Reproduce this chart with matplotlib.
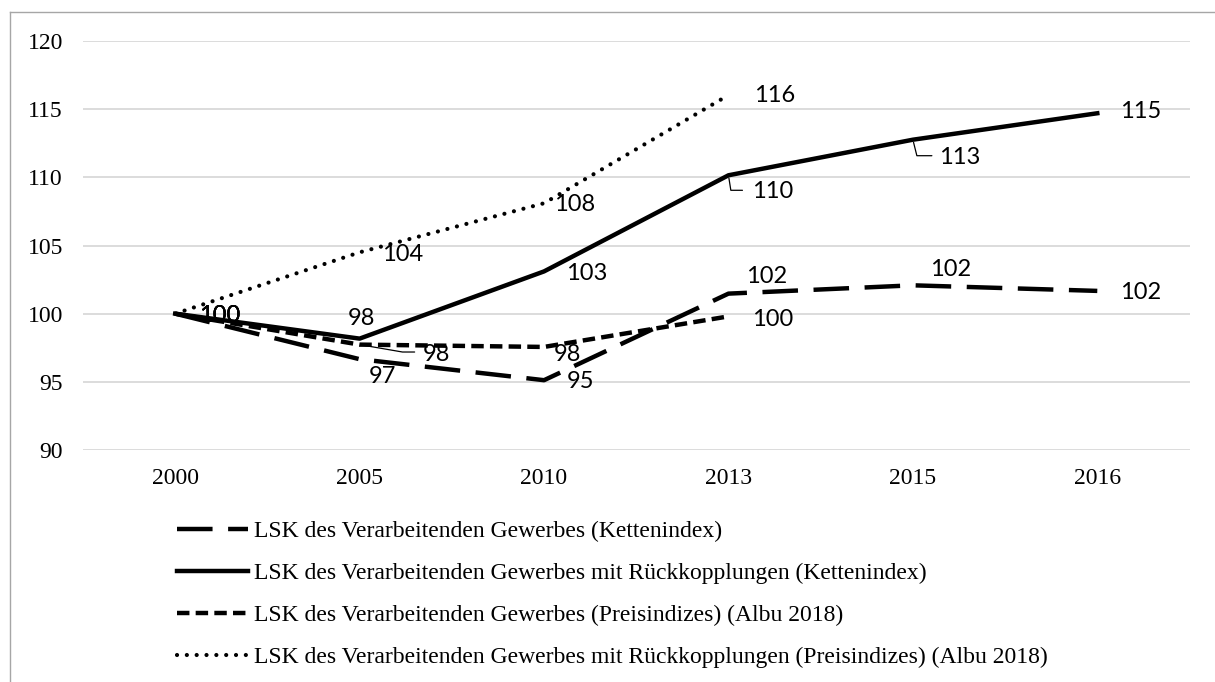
"""
LSK des Verarbeitenden Gewerbes - Indexvergleich
"""
import matplotlib
matplotlib.use("Agg")
import matplotlib.pyplot as plt
from matplotlib.lines import Line2D

years = ["2000", "2005", "2010", "2013", "2015", "2016"]

ketten = [100, 96.66, 95.12, 101.47, 102.08, 101.67]
ketten_rk = [100, 98.17, 103.1, 110.15, 112.76, 114.7]
preis = [100, 97.73, 97.56, 99.8]
preis_rk = [100, 104.5, 108.1, 116.03]

ketten_lbl = ["100", "97", "95", "102", "102", "102"]
ketten_rk_lbl = ["100", "98", "103", "110", "113", "115"]
preis_lbl = ["100", "98", "98", "100"]
preis_rk_lbl = ["100", "104", "108", "116"]

names = [
    "LSK des Verarbeitenden Gewerbes (Kettenindex)",
    "LSK des Verarbeitenden Gewerbes mit Rückkopplungen (Kettenindex)",
    "LSK des Verarbeitenden Gewerbes (Preisindizes) (Albu 2018)",
    "LSK des Verarbeitenden Gewerbes mit Rückkopplungen (Preisindizes) (Albu 2018)",
]

SERIF = "Liberation Serif"
LBL = dict(family="Lato", fontsize=17, ha="center", va="center")

fig = plt.figure(figsize=(12.15, 6.82), dpi=100)
ax = fig.add_axes([83 / 1215, 1 - 450 / 682, 1106.5 / 1215, 409 / 682])

x = list(range(len(years)))
l1, = ax.plot(x, ketten, color="black", lw=3.2, ls=(0, (8, 3.5)), label=names[0])
l2, = ax.plot(x, ketten_rk, color="black", lw=3.2, ls="-", label=names[1])
l3, = ax.plot(x[:4], preis, color="black", lw=3.2, ls=(0, (2.8, 1.4)), label=names[2])
l4, = ax.plot(x[:4], preis_rk, color="black", lw=3.0, ls=(0, (0.01, 2.35)),
              dash_capstyle="round", label=names[3])

# Datenbeschriftungen (Versatz in Pixeln)
off_ketten = [(44, -2), (23, -17), (36, -1), (38, 17), (38, 16), (43, -2)]
off_ketten_rk = [(44, -2), (2, 20), (43, -2), (44, -16), (47, -18), (43, 2)]
off_preis = [(44, -2), (77, -10), (23, -8), (44, -3)]
off_preis_rk = [(44, -2), (43, -2), (31, -1), (46, 0)]

for vals, lbls, offs in [(ketten, ketten_lbl, off_ketten),
                         (ketten_rk, ketten_rk_lbl, off_ketten_rk),
                         (preis, preis_lbl, off_preis),
                         (preis_rk, preis_rk_lbl, off_preis_rk)]:
    for i, (v, t, o) in enumerate(zip(vals, lbls, offs)):
        ax.annotate(t, xy=(i, v), xytext=o, textcoords="offset pixels", **LBL)

# Führungslinien: (Serie, Index, Ende der Linie, Winkel am Punkt)
leaders = [(ketten_rk, 3, (14, -15), -81),
           (ketten_rk, 4, (19, -16), -76),
           (preis, 1, (55, -7.4), -9.8)]
for vals, i, end, ang in leaders:
    ax.annotate("", xy=(i, vals[i]), xytext=end, textcoords="offset pixels",
                arrowprops=dict(arrowstyle="-", lw=0.9, color="black",
                                connectionstyle=f"angle,angleA=0,angleB={ang}",
                                shrinkA=0, shrinkB=2))

ax.set_xlim(-0.5, 5.5)
ax.set_ylim(90, 120)
ax.set_yticks(range(90, 121, 5))
ax.set_xticks(x)
ax.set_xticklabels(years)
ax.grid(axis="y", color="#d9d9d9", lw=1.3)
ax.set_axisbelow(True)
for s in ax.spines.values():
    s.set_visible(False)
ax.tick_params(length=0, labelsize=17)
ax.tick_params(axis="y", pad=14.4)
ax.tick_params(axis="x", pad=13)
for lab in ax.get_xticklabels() + ax.get_yticklabels():
    lab.set_family(SERIF)

fig.legend(handles=[l1, l2, l3, l4], loc="upper left",
           bbox_to_anchor=(177 / 1215, 1 - 521 / 682), frameon=False,
           prop=dict(family=SERIF, size=17), handlelength=3.0,
           handletextpad=0.25, labelspacing=0.86, borderpad=0, borderaxespad=0)

# Rahmen des Diagrammbereichs (nur links und oben sichtbar)
bx, by = 10 / 1215, 1 - 12 / 682
fig.add_artist(Line2D([bx, bx], [0, by], transform=fig.transFigure,
                      color="#a6a6a6", lw=1))
fig.add_artist(Line2D([bx, 1], [by, by], transform=fig.transFigure,
                      color="#a6a6a6", lw=1))

fig.savefig("out.png", dpi=100)
